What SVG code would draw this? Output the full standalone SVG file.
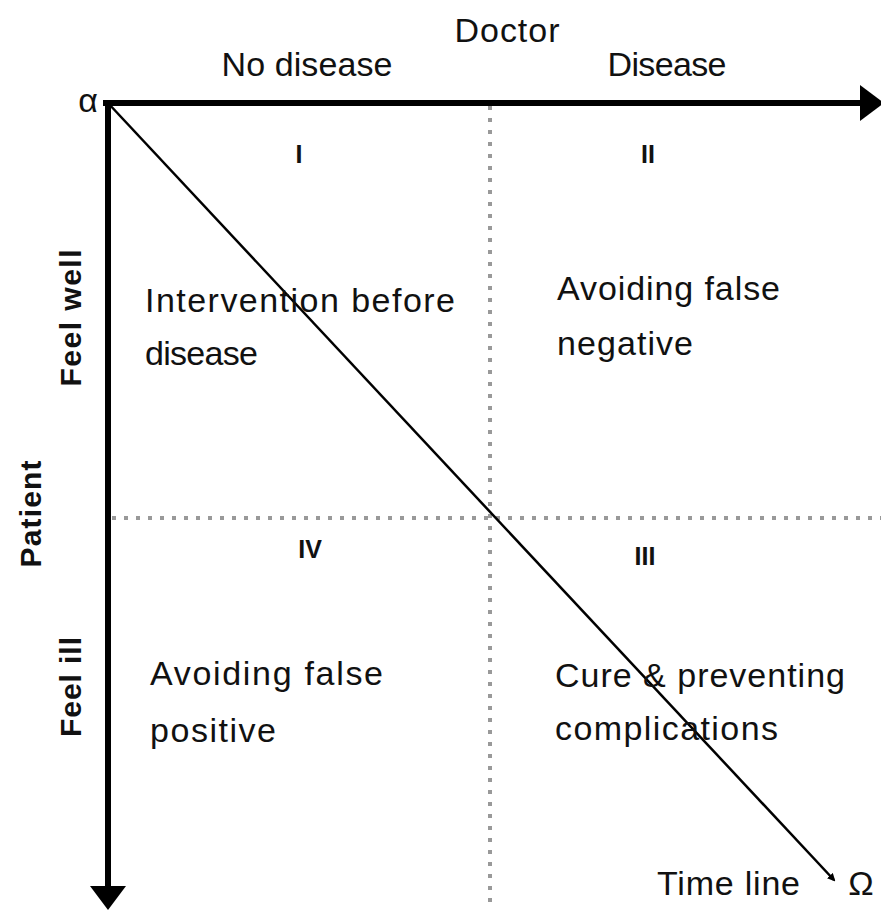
<svg xmlns="http://www.w3.org/2000/svg" width="881" height="910" viewBox="0 0 881 910">
<style>
text{font-family:"Liberation Sans",Arial,sans-serif;fill:#111}
.lbl{font-size:34px}
.q{font-size:34px}
.num{font-size:25px;font-weight:bold}
.side{font-size:30px;font-weight:bold}
.dot{stroke:#999;stroke-width:4;stroke-dasharray:4 8;fill:none}
</style>
<defs>
<marker id="big" markerWidth="6" markerHeight="6" refX="1" refY="3" orient="auto" markerUnits="strokeWidth"><path d="M0,0 L4,3 L0,6 z" fill="#000"/></marker>
<marker id="small" markerWidth="8" markerHeight="8" refX="6" refY="4" orient="auto" markerUnits="userSpaceOnUse"><path d="M0,0 L8,4 L0,8 z" fill="#000"/></marker>
</defs>
<rect width="881" height="910" fill="#fff"/>
<g id="connectors">
<line class="dot" x1="490" y1="106" x2="490" y2="905"/>
<line class="dot" x1="112" y1="518" x2="881" y2="518"/>
<line x1="103" y1="103" x2="866" y2="103" stroke="#000" stroke-width="6" marker-end="url(#big)"/>
<line x1="108" y1="100" x2="108" y2="892" stroke="#000" stroke-width="6" marker-end="url(#big)"/>
<line x1="108" y1="103" x2="834" y2="880" stroke="#000" stroke-width="2.5" marker-end="url(#small)"/>
</g>
<g id="axis-labels">
<text class="lbl" x="507" y="42" text-anchor="middle" textLength="105">Doctor</text>
<text class="lbl" x="307" y="76" text-anchor="middle" textLength="171">No disease</text>
<text class="lbl" x="667" y="76" text-anchor="middle" textLength="119">Disease</text>
<text class="lbl" x="88" y="112" text-anchor="middle" font-size="30">α</text>
<text class="lbl" x="657" y="895" textLength="143">Time line</text>
<text class="lbl" x="861" y="895" text-anchor="middle" font-size="30">Ω</text>
<text class="side" transform="translate(81,318) rotate(-90)" text-anchor="middle" textLength="137">Feel well</text>
<text class="side" transform="translate(41,514) rotate(-90)" text-anchor="middle" textLength="107">Patient</text>
<text class="side" transform="translate(81,687) rotate(-90)" text-anchor="middle" textLength="100">Feel ill</text>
</g>
<g id="q1">
<text class="num" x="299" y="163" text-anchor="middle">I</text>
<text class="q" x="145" y="312" textLength="310">Intervention before</text>
<text class="q" x="145" y="365" textLength="113">disease</text>
</g>
<g id="q2">
<text class="num" x="648" y="163" text-anchor="middle">II</text>
<text class="q" x="557" y="300" textLength="223">Avoiding false</text>
<text class="q" x="557" y="355" textLength="136">negative</text>
</g>
<g id="q3">
<text class="num" x="645" y="565" text-anchor="middle">III</text>
<text class="q" x="555" y="687" textLength="290">Cure &amp; preventing</text>
<text class="q" x="555" y="740" textLength="223">complications</text>
</g>
<g id="q4">
<text class="num" x="310" y="558" text-anchor="middle">IV</text>
<text class="q" x="150" y="685" textLength="233">Avoiding false</text>
<text class="q" x="150" y="742" textLength="126">positive</text>
</g>
</svg>
